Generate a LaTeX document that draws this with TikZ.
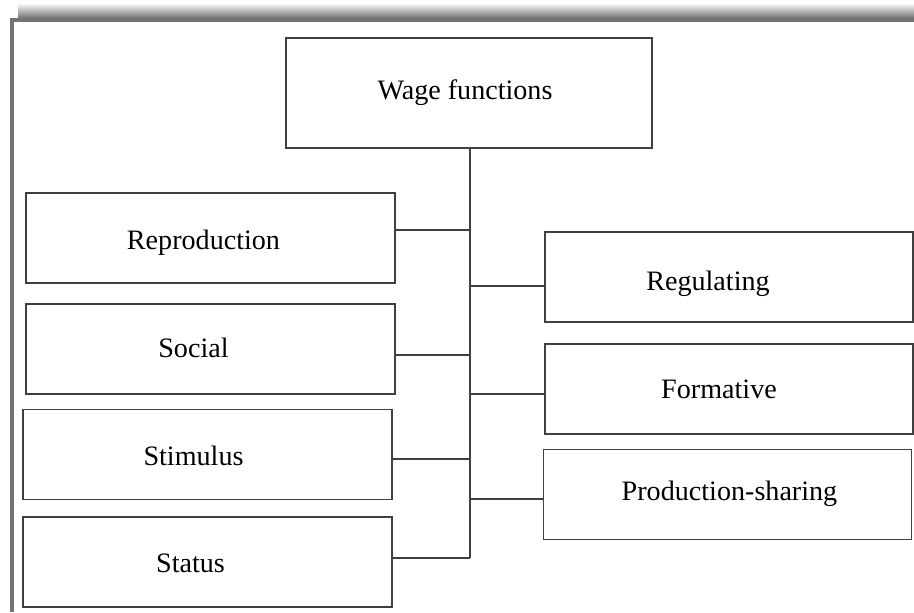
\documentclass[tikz,border=0pt]{standalone}
\usepackage{fontspec}
\setmainfont{Liberation Serif}
\usetikzlibrary{positioning}

\tikzset{
  funcbox/.style={draw=black!75, line width=1pt, fill=white, minimum width=7.38cm, minimum height=1.8cm, inner sep=0pt},
  functext/.style={inner sep=0pt, font=\fontsize{16}{19}\selectfont},
  link/.style={draw=black!75, line width=1pt}
}

\begin{document}
\begin{tikzpicture}
\useasboundingbox (0,0) rectangle (18.28,-12.24);
% frame with its shadow
\shade[top color=white, bottom color=black!55] (0.36,-0.06) rectangle (18.28,-0.36);
\draw[black!55, line width=1.8pt] (0.24,-12.24) -- (0.24,-0.4) -- (18.28,-0.4);

\node[funcbox, minimum width=7.32cm, minimum height=2.2cm] (wage) at (9.38,-1.86) {};
\node[functext] (wage-txt) at ([xshift=-0.08cm]wage.center) {Wage functions};

\foreach \name/\x/\y in {rep/4.21/-4.76, soc/4.21/-6.98, stim/4.15/-9.09, stat/4.15/-11.24} % left column
\node[funcbox] (\name) at (\x,\y) {};
\foreach \name/\x/\y in {reg/14.58/-5.54, form/14.58/-7.78, prod/14.55/-9.89} % right column
\node[funcbox, minimum width=7.36cm] (\name) at (\x,\y) {};

% edit here for the texts
\foreach \name/\dx/\dy/\txt in {rep/-0.14/-0.1/Reproduction, soc/-0.34/0.02/Social, stim/-0.28/-0.02/Stimulus, stat/-0.34/-0.02/Status, reg/-0.42/-0.14/Regulating, form/-0.2/0/Formative, prod/0.04/0.02/Production-sharing}
\node[functext] (\name-txt) at ([shift={(\dx,\dy)}]\name.center) {\txt};

\coordinate (trunk) at (9.4,-11.16);
\draw[link] (wage.south -| trunk) -- (trunk);
\foreach \name/\s in {rep/0.16, soc/-0.12, stim/-0.09, stat/0.08} % edit here for the left links
\draw[link] ([yshift=\s cm]\name.east) -- ([yshift=\s cm]\name.east -| trunk);
\foreach \name/\s in {reg/-0.18, form/-0.1, prod/-0.09} % edit here for the right links
\draw[link] ([yshift=\s cm]\name.west) -- ([yshift=\s cm]\name.west -| trunk);
\end{tikzpicture}
\end{document}
